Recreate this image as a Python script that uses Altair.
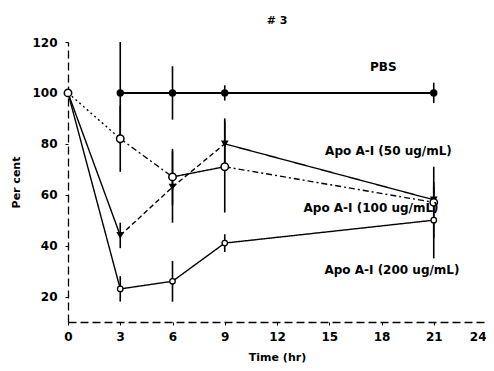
import altair as alt
import pandas as pd

hours = [0, 3, 6, 9, 21]
pbs_hours = [3, 6, 9, 21]
pbs = [100, 100, 100, 100]
pbs_err = [20, 10.5, 3, 4]
apo50 = [100, 82, 67, 71, 57]
err50 = [0, 13, 11, 18, 14]
apo100 = [100, 44, 63, 80, 58]
err100 = [0, 5, 14, 10, 5]
apo200 = [100, 23, 26, 41, 50]
err200 = [0, 5, 8, 3.5, 15]

seg_styles = {
    "50": ["dot", "dashdot", "solid", "dashdot"],
    "100": ["solid", "dash", "dash", "solid"],
    "200": ["solid", "solid", "solid", "solid"],
}
label_text = ["PBS", "Apo A-I (50 ug/mL)", "Apo A-I (100 ug/mL)", "Apo A-I (200 ug/mL)"]
label_x = [18.1, 18.4, 17.4, 18.6]
label_y = [110, 77, 54.7, 30.3]

FONT = "DejaVu Sans"

series = {"50": apo50, "100": apo100, "200": apo200}
errs = {"50": err50, "100": err100, "200": err200}

seg_rows = []
for name, vals in series.items():
    for i in range(len(hours) - 1):
        sid = f"{name}_{i}"
        st = seg_styles[name][i]
        seg_rows.append({"seg": sid, "style": st, "x": hours[i], "y": vals[i], "o": 0})
        seg_rows.append({"seg": sid, "style": st, "x": hours[i + 1], "y": vals[i + 1], "o": 1})
seg_df = pd.DataFrame(seg_rows)

pt_rows = []
for name, vals in series.items():
    for h, v, e in zip(hours, vals, errs[name]):
        pt_rows.append({"series": name, "x": h, "y": v, "lo": v - e, "hi": v + e})
pt_df = pd.DataFrame(pt_rows)
pbs_df = pd.DataFrame({"x": pbs_hours, "y": pbs,
                       "lo": [v - e for v, e in zip(pbs, pbs_err)],
                       "hi": [v + e for v, e in zip(pbs, pbs_err)]})
lab_df = pd.DataFrame({"t": label_text, "x": label_x, "y": label_y})

xs = alt.Scale(domain=[0, 24], nice=False)
ys = alt.Scale(domain=[10, 120], nice=False)

xenc = alt.X("x:Q", scale=xs,
             axis=alt.Axis(title="Time (hr)", values=[0, 3, 6, 9, 12, 15, 18, 21, 24],
                           labelAlign=alt.ExprRef(expr="datum.value == 24 ? 'right' : 'center'")))
yenc = alt.Y("y:Q", scale=ys,
             axis=alt.Axis(title="Per cent", values=[20, 40, 60, 80, 100, 120]))

lines = alt.Chart(seg_df).mark_line(color="black", strokeWidth=1.4).encode(
    x=xenc, y=yenc, detail="seg:N", order="o:Q",
    strokeDash=alt.StrokeDash("style:N", legend=None,
                              scale=alt.Scale(domain=["solid", "dash", "dot", "dashdot"],
                                              range=[[1, 0], [5, 3], [2, 3], [6, 3, 2, 3]])))
pbs_line = alt.Chart(pbs_df).mark_line(color="black", strokeWidth=2).encode(x="x:Q", y="y:Q")

ebars = alt.Chart(pt_df).transform_filter("datum.hi > datum.lo").mark_rule(
    color="black", strokeWidth=1.6).encode(x="x:Q", y="lo:Q", y2="hi:Q")
pbs_bars = alt.Chart(pbs_df).mark_rule(color="black", strokeWidth=1.6).encode(
    x="x:Q", y="lo:Q", y2="hi:Q")

pbs_pts = alt.Chart(pbs_df).mark_point(shape="circle", filled=True, size=55,
                                       color="black", opacity=1).encode(x="x:Q", y="y:Q")
p50 = alt.Chart(pt_df).transform_filter("datum.series == '50'").mark_point(
    shape="circle", size=55, fill="white", stroke="black", strokeWidth=1.5,
    filled=False, opacity=1, fillOpacity=1).encode(x="x:Q", y="y:Q")
p100 = alt.Chart(pt_df).transform_filter("datum.series == '100' && datum.x > 0").mark_point(
    shape="triangle-down", filled=True, size=60, color="black", opacity=1).encode(x="x:Q", y="y:Q")
p200 = alt.Chart(pt_df).transform_filter("datum.series == '200' && datum.x > 0").mark_point(
    shape="circle", size=30, fill="white", stroke="black", strokeWidth=1.3,
    filled=False, opacity=1, fillOpacity=1).encode(x="x:Q", y="y:Q")

labels = alt.Chart(lab_df).mark_text(font=FONT, fontWeight="bold", fontSize=12,
                                     color="black").encode(x="x:Q", y="y:Q", text="t:N")

chart = alt.layer(lines, pbs_line, ebars, pbs_bars, p200, p100, p50, pbs_pts, labels).properties(
    width=418, height=280,
    title=alt.TitleParams("# 3", font=FONT, fontSize=11, fontWeight="bold", offset=10),
    autosize=alt.AutoSizeParams(type="none"),
    padding={"left": 60, "top": 34, "right": 0, "bottom": 48},
).configure_view(stroke=None).configure_axis(
    grid=False, domainColor="black", domainWidth=1.3, domainDash=[8, 4],
    tickColor="black", tickSize=3, labelFont=FONT, labelFontWeight="bold",
    labelFontSize=12, labelColor="black", titleFont=FONT, titleFontWeight="bold",
    titleFontSize=11, titleColor="black", labelPadding=6,
).configure_axisY(titlePadding=10, labelPadding=8).configure_axisX(titlePadding=9)

chart.save("out.html", embed_options={"renderer": "svg", "actions": False})
